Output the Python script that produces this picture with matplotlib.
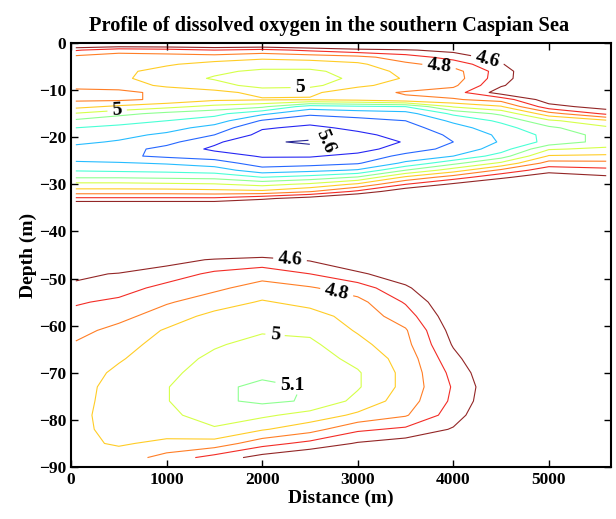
import numpy as np
import matplotlib
matplotlib.use("Agg")
import matplotlib.pyplot as plt
from matplotlib.colors import Normalize

plt.rcParams["font.family"] = ["Liberation Serif", "DejaVu Serif"]
plt.rcParams["font.weight"] = "bold"

# section grid (distance in m, depth in m)
distance = [50, 500, 1000, 1500, 2000, 2500, 3000, 3500, 4000, 4500, 5000, 5600]
depth = [0, -1.5, -3, -4.5, -6, -7.5, -9, -10.5, -12, -13.5, -15, -16.5,
         -18, -19.5, -21, -22.5, -24, -25.5, -27, -28.5, -30, -31.5, -33,
         -36, -40, -43, -46, -49, -52, -55, -58, -61, -64, -67, -70, -73,
         -76, -79, -82, -85, -88]

# dissolved oxygen, one row per depth
oxygen = [
    [4.42, 4.42, 4.42, 4.42, 4.42, 4.40, 4.40, 4.38, 4.35, 4.40, 4.40, 4.40],
    [4.69, 4.76, 4.74, 4.70, 4.73, 4.68, 4.63, 4.61, 4.57, 4.48, 4.40, 4.40],
    [4.83, 4.85, 4.85, 4.85, 4.88, 4.86, 4.83, 4.75, 4.66, 4.55, 4.42, 4.40],
    [4.85, 4.87, 4.89, 4.93, 4.95, 4.95, 4.92, 4.82, 4.76, 4.61, 4.44, 4.42],
    [4.85, 4.88, 4.93, 4.98, 5.02, 5.02, 4.96, 4.87, 4.84, 4.65, 4.46, 4.44],
    [4.85, 4.88, 4.95, 5.01, 5.05, 5.06, 4.97, 4.89, 4.85, 4.64, 4.48, 4.46],
    [4.83, 4.85, 4.92, 4.96, 5.04, 5.03, 4.92, 4.86, 4.82, 4.61, 4.50, 4.48],
    [4.77, 4.77, 4.83, 4.87, 4.93, 4.92, 4.84, 4.79, 4.75, 4.55, 4.52, 4.50],
    [4.78, 4.78, 4.82, 4.88, 4.89, 4.89, 4.87, 4.82, 4.81, 4.76, 4.54, 4.52],
    [4.87, 4.92, 4.97, 5.03, 5.08, 5.25, 5.22, 5.20, 4.99, 4.91, 4.64, 4.55],
    [5.01, 5.07, 5.13, 5.17, 5.28, 5.38, 5.36, 5.34, 5.18, 5.08, 4.84, 4.68],
    [5.12, 5.17, 5.20, 5.25, 5.41, 5.47, 5.43, 5.40, 5.28, 5.18, 5.02, 4.92],
    [5.20, 5.22, 5.26, 5.34, 5.49, 5.52, 5.48, 5.44, 5.34, 5.24, 5.12, 5.02],
    [5.24, 5.27, 5.32, 5.40, 5.53, 5.57, 5.52, 5.47, 5.38, 5.28, 5.17, 5.06],
    [5.28, 5.31, 5.37, 5.48, 5.59, 5.61, 5.58, 5.49, 5.40, 5.29, 5.17, 5.06],
    [5.33, 5.36, 5.43, 5.52, 5.57, 5.58, 5.54, 5.45, 5.37, 5.25, 5.01, 4.98],
    [5.36, 5.38, 5.42, 5.45, 5.51, 5.51, 5.47, 5.37, 5.30, 5.15, 4.89, 4.88],
    [5.28, 5.29, 5.31, 5.35, 5.45, 5.44, 5.41, 5.28, 5.13, 4.98, 4.76, 4.77],
    [5.21, 5.22, 5.23, 5.25, 5.36, 5.33, 5.29, 5.10, 4.95, 4.78, 4.64, 4.67],
    [5.11, 5.11, 5.12, 5.13, 5.20, 5.16, 5.09, 4.88, 4.75, 4.62, 4.53, 4.58],
    [4.97, 4.97, 4.98, 4.99, 5.03, 4.98, 4.88, 4.70, 4.58, 4.50, 4.45, 4.50],
    [4.86, 4.86, 4.86, 4.87, 4.88, 4.81, 4.68, 4.52, 4.45, 4.42, 4.40, 4.45],
    [4.68, 4.68, 4.68, 4.68, 4.62, 4.55, 4.45, 4.40, 4.38, 4.38, 4.38, 4.40],
    [4.30, 4.30, 4.30, 4.30, 4.30, 4.30, 4.30, 4.30, 4.30, 4.30, 4.30, 4.30],
    [4.20, 4.20, 4.20, 4.25, 4.30, 4.30, 4.30, 4.30, 4.30, 4.30, 4.30, 4.30],
    [4.20, 4.25, 4.30, 4.38, 4.45, 4.45, 4.40, 4.35, 4.32, 4.30, 4.30, 4.30],
    [4.35, 4.42, 4.56, 4.61, 4.63, 4.59, 4.50, 4.45, 4.38, 4.32, 4.32, 4.30],
    [4.57, 4.61, 4.65, 4.72, 4.76, 4.70, 4.62, 4.53, 4.42, 4.34, 4.33, 4.30],
    [4.63, 4.66, 4.73, 4.78, 4.84, 4.81, 4.75, 4.62, 4.46, 4.36, 4.34, 4.31],
    [4.69, 4.72, 4.79, 4.85, 4.91, 4.87, 4.83, 4.69, 4.50, 4.38, 4.34, 4.31],
    [4.73, 4.77, 4.85, 4.93, 4.95, 4.94, 4.86, 4.75, 4.53, 4.40, 4.35, 4.32],
    [4.77, 4.83, 4.91, 4.96, 4.99, 4.98, 4.89, 4.81, 4.56, 4.42, 4.35, 4.32],
    [4.81, 4.86, 4.94, 4.99, 5.03, 5.02, 4.93, 4.83, 4.59, 4.44, 4.36, 4.32],
    [4.84, 4.89, 4.96, 5.02, 5.06, 5.05, 4.97, 4.86, 4.63, 4.46, 4.36, 4.32],
    [4.85, 4.92, 4.98, 5.04, 5.08, 5.07, 5.01, 4.87, 4.67, 4.48, 4.36, 4.32],
    [4.86, 4.94, 4.995, 5.08, 5.12, 5.095, 5.01, 4.87, 4.69, 4.50, 4.36, 4.32],
    [4.86, 4.95, 4.995, 5.08, 5.12, 5.09, 4.97, 4.85, 4.68, 4.49, 4.36, 4.32],
    [4.87, 4.95, 4.98, 5.04, 5.02, 4.96, 4.88, 4.81, 4.65, 4.46, 4.35, 4.32],
    [4.87, 4.94, 4.94, 4.99, 4.91, 4.84, 4.72, 4.68, 4.59, 4.43, 4.35, 4.31],
    [4.88, 4.91, 4.88, 4.86, 4.74, 4.67, 4.59, 4.55, 4.48, 4.40, 4.34, 4.31],
    [4.87, 4.86, 4.76, 4.66, 4.56, 4.50, 4.45, 4.42, 4.38, 4.36, 4.33, 4.30],
]

levels = [4.6, 4.7, 4.8, 4.9, 5.0, 5.1, 5.2, 5.3, 5.4, 5.5, 5.6]

# where the inline labels sit: (level, distance, depth)
label_spots = [(4.6, 4356, -3.6), (4.8, 3843, -6.4), (5.0, 2398, -9.3),
               (5.0, 482, -14.2), (5.6, 2660, -21.0), (4.6, 2293, -45.4),
               (4.8, 2785, -52.4), (5.0, 2136, -61.6), (5.1, 2314, -72.5)]

fig = plt.figure(figsize=(6.16, 5.19), dpi=100)
ax = fig.add_axes([0.1153, 0.1002, 0.8766, 0.8169])

X, Y = np.meshgrid(distance, depth)
Z = np.array(oxygen)
cmap = plt.get_cmap("jet_r")
norm = Normalize(vmin=4.6, vmax=5.6)

# one contour set per level so each can get its own labels
for lev in levels:
    cs = ax.contour(X, Y, Z, levels=[lev], colors=[cmap(norm(lev))],
                    linewidths=0.8, alpha=0.85)
    spots = [(lx, ly) for l, lx, ly in label_spots if l == lev]
    if spots:
        texts = ax.clabel(cs, manual=spots, inline=True, fmt="%g",
                          fontsize=14, colors="k")
        for t in texts:
            t.set_alpha(1)
            if lev == 5.1:
                t.set_rotation(0)

ax.set_xlim(0, 5650)
ax.set_ylim(-90, 0)
ax.set_xticks([0, 1000, 2000, 3000, 4000, 5000])
ax.set_yticks(np.arange(-90, 1, 10))
ax.tick_params(direction="in", top=True, right=True, length=5, width=1,
               labelsize=12.5)
for sp in ax.spines.values():
    sp.set_linewidth(1.5)

ax.set_title("Profile of dissolved oxygen in the southern Caspian Sea",
             fontsize=14.7, fontweight="bold", pad=9, x=0.478)
ax.set_xlabel("Distance (m)", fontsize=14, fontweight="bold", labelpad=1)
ax.set_ylabel("Depth (m)", fontsize=14, fontweight="bold", labelpad=1)

fig.savefig("out.png", dpi=100)
